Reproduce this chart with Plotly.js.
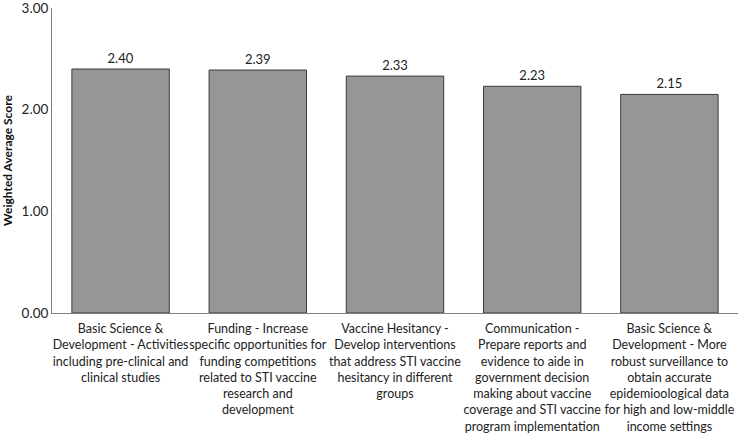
<!DOCTYPE html>
<html>
<head>
<meta charset="utf-8">
<script src="https://cdn.plot.ly/plotly-3.0.1.min.js"></script>
<style>html,body{margin:0;padding:0;background:#fff;}#chart{width:738px;height:434px;}</style>
</head>
<body>
<div id="chart"></div>
<script>
const categories = [
  "Basic Science &<br>Development - Activities<br>including pre-clinical and<br>clinical studies",
  "Funding - Increase<br>specific opportunities for<br>funding competitions<br>related to STI vaccine<br>research and<br>development",
  "Vaccine Hesitancy -<br>Develop interventions<br>that address STI vaccine<br>hesitancy in different<br>groups",
  "Communication -<br>Prepare reports and<br>evidence to aide in<br>government decision<br>making about vaccine<br>coverage and STI vaccine<br>program implementation",
  "Basic Science &<br>Development - More<br>robust surveillance to<br>obtain accurate<br>epidemioological data<br>for high and low-middle<br>income settings"
];
const scores = [2.40, 2.39, 2.33, 2.23, 2.15];
const yTicks = [0, 1, 2, 3];

const fontFam = "Lato, Open Sans, sans-serif";
const trace = {
  type: "bar",
  x: categories,
  y: scores,
  marker: {color: "#969696", line: {color: "#3a3a3a", width: 1}},
  text: scores.map(v => v.toFixed(2)),
  textposition: "outside",
  textfont: {family: fontFam, size: 13, color: "#222"},
  cliponaxis: false,
  hoverinfo: "none"
};
const layout = {
  width: 738, height: 434,
  margin: {l: 52, r: 0, t: 8, b: 121},
  paper_bgcolor: "#fff", plot_bgcolor: "#fff",
  bargap: 0.29,
  showlegend: false,
  font: {family: fontFam, size: 12, color: "#222"},
  xaxis: {
    type: "category",
    showline: true, linecolor: "#808080", linewidth: 1,
    ticks: "", tickangle: 0,
    ticklabelstandoff: 4,
    tickfont: {family: fontFam, size: 12.5, color: "#222"},
    automargin: false
  },
  yaxis: {
    range: [0, 3],
    tickvals: yTicks,
    ticktext: yTicks.map(v => v.toFixed(2)),
    tickmode: "array",
    ticklabeloverflow: "allow",
    showline: true, linecolor: "#808080", linewidth: 1,
    showgrid: false, zeroline: false,
    ticks: "", ticklen: 0,
    tickfont: {family: fontFam, size: 13.5, color: "#222"},
    title: {text: "<b>Weighted Average Score</b>", font: {family: fontFam, size: 12, color: "#111"}, standoff: 8},
    automargin: false
  }
};
Plotly.newPlot("chart", [trace], layout, {staticPlot: true, displayModeBar: false});
</script>
</body>
</html>
